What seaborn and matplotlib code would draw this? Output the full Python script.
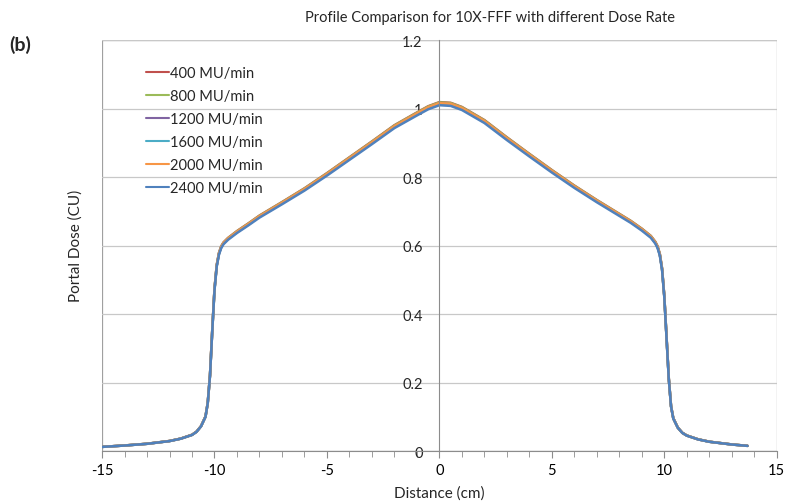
import numpy as np
import pandas as pd
import matplotlib.pyplot as plt
import seaborn as sns
from matplotlib.ticker import MultipleLocator

# profile (shared shape, all dose rates nearly overlap)
distance = [-15, -14, -13, -12, -11.5, -11, -10.8, -10.6, -10.4, -10.3, -10.2, -10.1,
            -10.0, -9.9, -9.8, -9.7, -9.6, -9.4, -9.0, -8.5, -8, -7, -6, -5, -4, -3,
            -2, -1, -0.5, 0, 0.5, 1, 2, 3, 4, 5, 6, 7, 8, 8.5, 9, 9.4, 9.6, 9.7, 9.8,
            9.9, 10.0, 10.1, 10.2, 10.3, 10.4, 10.6, 10.8, 11, 11.5, 12, 13, 13.7]
dose = [0.012, 0.016, 0.021, 0.029, 0.036, 0.047, 0.056, 0.072, 0.10, 0.14, 0.22, 0.35,
        0.47, 0.54, 0.575, 0.594, 0.605, 0.618, 0.638, 0.66, 0.683, 0.722, 0.762, 0.806,
        0.852, 0.898, 0.945, 0.982, 1.0, 1.012, 1.01, 0.998, 0.96, 0.91, 0.862, 0.815,
        0.77, 0.728, 0.688, 0.668, 0.645, 0.624, 0.607, 0.594, 0.572, 0.53, 0.45, 0.33,
        0.21, 0.13, 0.095, 0.068, 0.053, 0.045, 0.034, 0.027, 0.019, 0.015]

rates = ["400 MU/min", "800 MU/min", "1200 MU/min", "1600 MU/min", "2000 MU/min", "2400 MU/min"]
rate_scale = [1.007, 1.006, 1.003, 1.002, 1.004, 0.998]
colors = ["#C0504D", "#9BBB59", "#8064A2", "#4BACC6", "#F79646", "#4F81BD"]

rows = []
for r, s in zip(rates, rate_scale):
    for x, y in zip(distance, dose):
        rows.append({"Distance": x, "Dose": y * s, "Rate": r})
df = pd.DataFrame(rows)

sns.set_style("white")
plt.rcParams["font.family"] = ["Lato", "DejaVu Sans"]
plt.rcParams["axes.unicode_minus"] = False

fig = plt.figure(figsize=(7.91, 5.02), dpi=100)
ax = fig.add_axes([0.129, 0.0996, 0.853, 0.8184])

sns.lineplot(data=df, x="Distance", y="Dose", hue="Rate", palette=colors,
             hue_order=rates, sort=False, estimator=None, linewidth=1.8, ax=ax)

ax.set_xlim(-15, 15)
ax.set_ylim(0, 1.2)
ax.xaxis.set_major_locator(MultipleLocator(5))
ax.xaxis.set_minor_locator(MultipleLocator(1))
ax.set_yticks([0, 0.2, 0.4, 0.6, 0.8, 1, 1.2])
ax.set_yticklabels(["0", "0.2", "0.4", "0.6", "0.8", "1", "1.2"])
ax.grid(axis="y", color="#c8c8c8", linewidth=0.9)
ax.set_axisbelow(True)

for side in ["top", "right"]:
    ax.spines[side].set_visible(False)
ax.spines["left"].set_position(("data", 0))
ax.spines["left"].set_color("#8c8c8c")
ax.spines["bottom"].set_color("#8c8c8c")
ax.add_patch(plt.Rectangle((0, 0), 1, 1, transform=ax.transAxes, fill=False,
                           edgecolor="#a0a0a0", linewidth=0.9, zorder=0.5))

ax.tick_params(axis="x", which="both", direction="out", colors="#8c8c8c",
               labelcolor="black", labelsize=10.5, bottom=True)
ax.tick_params(axis="x", which="major", length=5)
ax.tick_params(axis="x", which="minor", length=4)
ax.tick_params(axis="y", length=0, labelsize=10.5, pad=12)

ax.set_xlabel("Distance (cm)", fontsize=11, labelpad=6)
ax.set_ylabel("")
fig.text(0.095, 0.51, "Portal Dose (CU)", rotation=90, fontsize=11,
         ha="center", va="center")
fig.text(0.62, 0.965, "Profile Comparison for 10X-FFF with different Dose Rate",
         fontsize=10.5, ha="center", va="center")
fig.text(0.012, 0.91, "(b)", fontsize=14, fontweight="bold", ha="left", va="center")

leg = ax.legend(loc="upper left", bbox_to_anchor=(0.045, 0.97), frameon=False,
                fontsize=10.5, handlelength=1.6, handletextpad=0.1, labelspacing=0.62,
                title=None)
for line in leg.get_lines():
    line.set_linewidth(1.5)

fig.savefig("out.png", dpi=100)
